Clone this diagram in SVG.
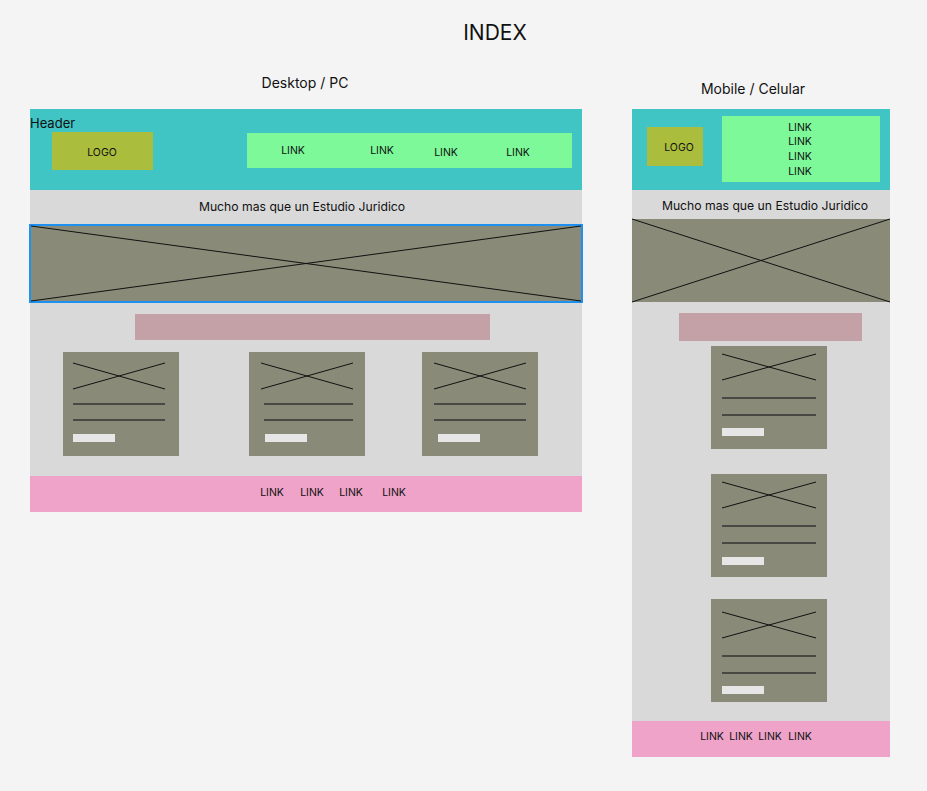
<svg xmlns="http://www.w3.org/2000/svg" width="927" height="791" viewBox="0 0 927 791">
<style>
text{font-family:Inter,"Noto Sans","Liberation Sans",sans-serif;fill:#111}
.teal{fill:#40C4C4}.logo{fill:#ABBD3D}.lnk{fill:#7EF99A}.gray{fill:#D9D9D9}.img{fill:#8A8A78}
.bar{fill:#C4A1A7}.foot{fill:#F0A3C8}.ln{stroke:#111;stroke-width:1}.ln2{stroke:#333;stroke-width:1.3}
.wh{fill:#E6E6E6}.s11{font-size:10.5px}.s13{font-size:12.2px}
</style>
<rect width="927" height="791" fill="#F4F4F4"/>
<text x="495" y="40" font-size="21" text-anchor="middle">INDEX</text>
<text x="305" y="88" font-size="14" text-anchor="middle">Desktop / PC</text>
<text x="753" y="94" font-size="14" text-anchor="middle">Mobile / Celular</text>

<g id="desktop">
<rect class="teal" x="30" y="109" width="552" height="81"/>
<text x="30" y="128" font-size="13">Header</text>
<rect class="logo" x="52" y="132" width="101" height="38"/>
<text x="102" y="156" class="s11" text-anchor="middle">LOGO</text>
<rect class="lnk" x="247" y="133" width="325" height="35"/>
<text x="293" y="154" class="s11" text-anchor="middle">LINK</text>
<text x="382" y="154" class="s11" text-anchor="middle">LINK</text>
<text x="446" y="156" class="s11" text-anchor="middle">LINK</text>
<text x="518" y="156" class="s11" text-anchor="middle">LINK</text>
<rect class="gray" x="30" y="190" width="552" height="286"/>
<text x="302" y="211" class="s13" text-anchor="middle">Mucho mas que un Estudio Juridico</text>
<rect class="img" x="30" y="225" width="552" height="77" stroke="#1E90F0" stroke-width="2"/>
<line class="ln" x1="31" y1="226" x2="581" y2="301"/>
<line class="ln" x1="31" y1="301" x2="581" y2="226"/>
<rect class="bar" x="135" y="314" width="355" height="26"/>
<g id="d-card1">
<rect class="img" x="63" y="352" width="116" height="104"/>
<line class="ln" x1="73" y1="363" x2="165" y2="389"/><line class="ln" x1="73" y1="389" x2="165" y2="363"/>
<line class="ln2" x1="73" y1="404" x2="165" y2="404"/><line class="ln2" x1="73" y1="420" x2="165" y2="420"/>
<rect class="wh" x="73" y="434" width="42" height="8"/>
</g>
<g id="d-card2">
<rect class="img" x="249" y="352" width="116" height="104"/>
<line class="ln" x1="261" y1="363" x2="353" y2="389"/><line class="ln" x1="261" y1="389" x2="353" y2="363"/>
<line class="ln2" x1="264" y1="404" x2="353" y2="404"/><line class="ln2" x1="264" y1="420" x2="353" y2="420"/>
<rect class="wh" x="265" y="434" width="42" height="8"/>
</g>
<g id="d-card3">
<rect class="img" x="422" y="352" width="116" height="104"/>
<line class="ln" x1="434" y1="363" x2="526" y2="389"/><line class="ln" x1="434" y1="389" x2="526" y2="363"/>
<line class="ln2" x1="434" y1="404" x2="526" y2="404"/><line class="ln2" x1="434" y1="420" x2="526" y2="420"/>
<rect class="wh" x="438" y="434" width="42" height="8"/>
</g>
<rect class="foot" x="30" y="476" width="552" height="36"/>
<text x="272" y="496" class="s11" text-anchor="middle">LINK</text>
<text x="312" y="496" class="s11" text-anchor="middle">LINK</text>
<text x="351" y="496" class="s11" text-anchor="middle">LINK</text>
<text x="394" y="496" class="s11" text-anchor="middle">LINK</text>
</g>

<g id="mobile">
<rect class="teal" x="632" y="109" width="258" height="81"/>
<rect class="logo" x="647" y="127" width="56" height="39"/>
<text x="679" y="151" class="s11" text-anchor="middle">LOGO</text>
<rect class="lnk" x="722" y="116" width="158" height="66"/>
<text x="800" y="131" class="s11" text-anchor="middle">LINK</text>
<text x="800" y="145" class="s11" text-anchor="middle">LINK</text>
<text x="800" y="160" class="s11" text-anchor="middle">LINK</text>
<text x="800" y="175" class="s11" text-anchor="middle">LINK</text>
<rect class="gray" x="632" y="190" width="258" height="531"/>
<text x="765" y="210" class="s13" text-anchor="middle">Mucho mas que un Estudio Juridico</text>
<rect class="img" x="632" y="219" width="258" height="83"/>
<line class="ln" x1="632" y1="219" x2="890" y2="302"/>
<line class="ln" x1="632" y1="302" x2="890" y2="219"/>
<rect class="bar" x="679" y="313" width="183" height="28"/>
<g id="m-card1">
<rect class="img" x="711" y="346" width="116" height="103"/>
<line class="ln" x1="722" y1="354" x2="816" y2="380"/><line class="ln" x1="722" y1="380" x2="816" y2="354"/>
<line class="ln2" x1="722" y1="398" x2="816" y2="398"/><line class="ln2" x1="722" y1="415" x2="816" y2="415"/>
<rect class="wh" x="722" y="428" width="42" height="8"/>
</g>
<g id="m-card2">
<rect class="img" x="711" y="474" width="116" height="103"/>
<line class="ln" x1="722" y1="482" x2="816" y2="508"/><line class="ln" x1="722" y1="508" x2="816" y2="482"/>
<line class="ln2" x1="722" y1="526" x2="816" y2="526"/><line class="ln2" x1="722" y1="543" x2="816" y2="543"/>
<rect class="wh" x="722" y="557" width="42" height="8"/>
</g>
<g id="m-card3">
<rect class="img" x="711" y="599" width="116" height="103"/>
<line class="ln" x1="722" y1="612" x2="816" y2="638"/><line class="ln" x1="722" y1="638" x2="816" y2="612"/>
<line class="ln2" x1="722" y1="656" x2="816" y2="656"/><line class="ln2" x1="722" y1="673" x2="816" y2="673"/>
<rect class="wh" x="722" y="686" width="42" height="8"/>
</g>
<rect class="foot" x="632" y="721" width="258" height="36"/>
<text x="712" y="740" class="s11" text-anchor="middle">LINK</text>
<text x="741" y="740" class="s11" text-anchor="middle">LINK</text>
<text x="770" y="740" class="s11" text-anchor="middle">LINK</text>
<text x="800" y="740" class="s11" text-anchor="middle">LINK</text>
</g>
</svg>
